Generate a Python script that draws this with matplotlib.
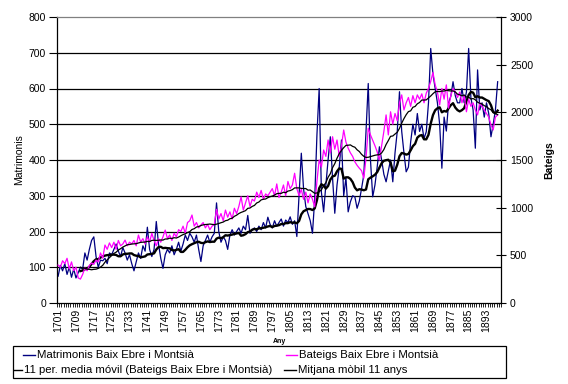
import numpy as np
import pandas as pd
import matplotlib
matplotlib.use("Agg")
import matplotlib.pyplot as plt
from matplotlib.lines import Line2D
from matplotlib.patches import Rectangle

plt.rcParams['font.family'] = ['Liberation Sans', 'DejaVu Sans']

years = list(range(1701, 1899))

matrimonis = [
    75, 105, 90, 110, 80, 100, 72, 95, 70, 85,
    100, 95, 140, 120, 150, 175, 185, 130, 100, 120,
    118, 125, 110, 140, 135, 150, 165, 145, 130, 155,
    140, 120, 135, 110, 90, 115, 140, 125, 160, 145,
    212, 150, 130, 150, 228, 165, 125, 97, 135, 150,
    140, 160, 135, 150, 170, 145, 165, 190, 175, 195,
    185, 170, 190, 150, 116, 160, 175, 190, 170, 185,
    195, 280, 200, 170, 185, 175, 150, 190, 205, 190,
    200, 210, 195, 215, 205, 245, 195, 205, 210, 200,
    215, 205, 225, 210, 240, 220, 210, 230, 215, 225,
    235, 215, 232, 225, 241, 220, 230, 186, 300, 419,
    320, 270, 250, 230, 195, 290, 470, 600, 310, 255,
    330, 400, 465, 350, 251, 330, 380, 456, 300, 350,
    255, 283, 300, 297, 265, 285, 320, 358, 480, 614,
    400, 297, 330, 380, 437, 400, 360, 339, 370, 400,
    339, 420, 480, 591, 480, 420, 367, 380, 450, 500,
    470, 530, 480, 500, 460, 479, 560, 712, 640, 600,
    560, 500, 377, 520, 481, 560, 578, 619, 580, 560,
    560, 600, 560, 590, 712, 575, 540, 433, 652, 540,
    560, 520, 560, 530, 465, 500, 540, 619,
]

bateigs = [
    398, 375, 443, 413, 469, 356, 431, 338, 375, 263,
    251, 300, 368, 338, 394, 420, 405, 450, 431, 525,
    469, 608, 563, 630, 581, 638, 563, 656, 600, 619,
    660, 600, 638, 619, 656, 600, 713, 638, 675, 619,
    694, 638, 731, 656, 600, 675, 638, 694, 765, 675,
    713, 656, 731, 694, 769, 750, 806, 731, 844, 863,
    923, 806, 844, 788, 818, 844, 788, 825, 769, 806,
    825, 983, 881, 938, 863, 975, 900, 956, 881, 994,
    938, 1013, 1114, 975, 1050, 1125, 1013, 1088, 1069, 1163,
    1106, 1181, 1088, 1144, 1125, 1163, 1200, 1125, 1249, 1106,
    1163, 1238, 1125, 1275, 1200, 1238, 1361, 1200, 1125, 1193,
    1088, 1163, 1050, 1144, 1088, 1009, 1275, 1500, 1425, 1605,
    1538, 1710, 1575, 1744, 1613, 1710, 1538, 1650, 1815, 1688,
    1624, 1575, 1538, 1481, 1444, 1414, 1388, 1309, 1519, 1834,
    1763, 1706, 1650, 1586, 1500, 1650, 1800, 1973, 1763, 2006,
    1875, 1988, 1913, 2100, 2183, 2025, 2100, 2156, 2063, 2175,
    2100, 2183, 2138, 2194, 2100, 2201, 2250, 2325, 2419, 2288,
    2213, 2078, 2250, 2138, 2288, 2044, 2175, 2250, 2216, 2156,
    2213, 2100, 2175, 2006, 2138, 2063, 2100, 2025, 1973, 2100,
    2063, 2025, 1988, 1950, 1868, 1815, 1950, 1973,
]

tick_years = list(range(1701, 1900, 8))
left_ticks = list(range(0, 801, 100))
right_ticks = list(range(0, 3001, 500))

series_labels = [
    "Matrimonis Baix Ebre i Montsià",
    "Bateigs Baix Ebre i Montsià",
    "11 per. media móvil (Bateigs Baix Ebre i Montsià)",
    "Mitjana mòbil 11 anys",
]

C_MAT = '#000080'
C_BAT = '#FF00FF'

W, H = 568, 384
fig = plt.figure(figsize=(W / 100, H / 100), dpi=100)
fig.patch.set_facecolor('white')
L, R, T, B = 57, 501, 17, 303
ax = fig.add_axes([L / W, 1 - B / H, (R - L) / W, (B - T) / H])
ax2 = ax.twinx()

s_m = pd.Series(matrimonis, index=years, dtype=float)
s_b = pd.Series(bateigs, index=years, dtype=float)
ma_m = s_m.rolling(11).mean()
ma_b = s_b.rolling(11).mean()

for v in left_ticks[1:-1]:
    ax.axhline(v, color='black', lw=0.9, zorder=0.5)

ax.plot(years, s_m.values, color=C_MAT, lw=0.9, zorder=2)
ax.plot(years, ma_m.values, color='black', lw=1.7, zorder=3)
ax2.plot(years, s_b.values, color=C_BAT, lw=0.9, zorder=2)
ax2.plot(years, ma_b.values, color='black', lw=0.9, zorder=3)

ax.set_xlim(1700.5, 1899.5)
ax.set_ylim(0, 800)
ax2.set_ylim(0, 3000)
ax.set_yticks(left_ticks)
ax2.set_yticks(right_ticks)
ax.set_xticks(tick_years)
ax.set_xticklabels([str(y) for y in tick_years], rotation=90)
ax.set_xticks(np.arange(1700.5, 1900, 1.0), minor=True)

ax.tick_params(axis='x', which='major', length=0, pad=4, labelsize=7.5)
ax.tick_params(axis='x', which='minor', length=3, width=0.6, direction='out', color='black')
ax.tick_params(axis='y', which='major', length=6, width=0.8, direction='out', pad=2, labelsize=7.5)
ax2.tick_params(axis='y', which='major', length=7, width=0.8, direction='inout', pad=3, labelsize=7.5)

for sp in ['left', 'bottom']:
    ax.spines[sp].set_color('black')
    ax.spines[sp].set_linewidth(0.9)
ax.spines['top'].set_color('#808080')
ax.spines['top'].set_linewidth(0.9)
ax.spines['right'].set_visible(False)
for sp in ['left', 'bottom', 'top']:
    ax2.spines[sp].set_visible(False)
ax2.spines['right'].set_color('black')
ax2.spines['right'].set_linewidth(0.9)
ax2.patch.set_visible(False)

ax.set_ylabel("Matrimonis", fontsize=7.5, labelpad=3)
ax2.set_ylabel("Bateigs", fontsize=7.5, fontweight='bold', labelpad=8)
ax.set_xlabel("Any", fontsize=5, fontweight='bold', labelpad=4)

def fx(x):
    return x / W

def fy(y):
    return 1 - y / H

fig.patches.append(Rectangle((fx(13), fy(378)), fx(506) - fx(13), fy(346) - fy(378),
                             transform=fig.transFigure, fill=False,
                             edgecolor='black', lw=0.9))
entries = [
    (23, 35, 37, 355, C_MAT, series_labels[0]),
    (286, 297, 299, 355, C_BAT, series_labels[1]),
    (14, 22, 24, 370, 'black', series_labels[2]),
    (284, 296, 298, 370, 'black', series_labels[3]),
]
for x0, x1, xt, yy, col, lab in entries:
    fig.lines.append(Line2D([fx(x0), fx(x1)], [fy(yy), fy(yy)], transform=fig.transFigure,
                            color=col, lw=1.0))
    fig.text(fx(xt), fy(yy), lab, fontsize=8.2, va='center', ha='left')

fig.savefig("out.png", dpi=100)
